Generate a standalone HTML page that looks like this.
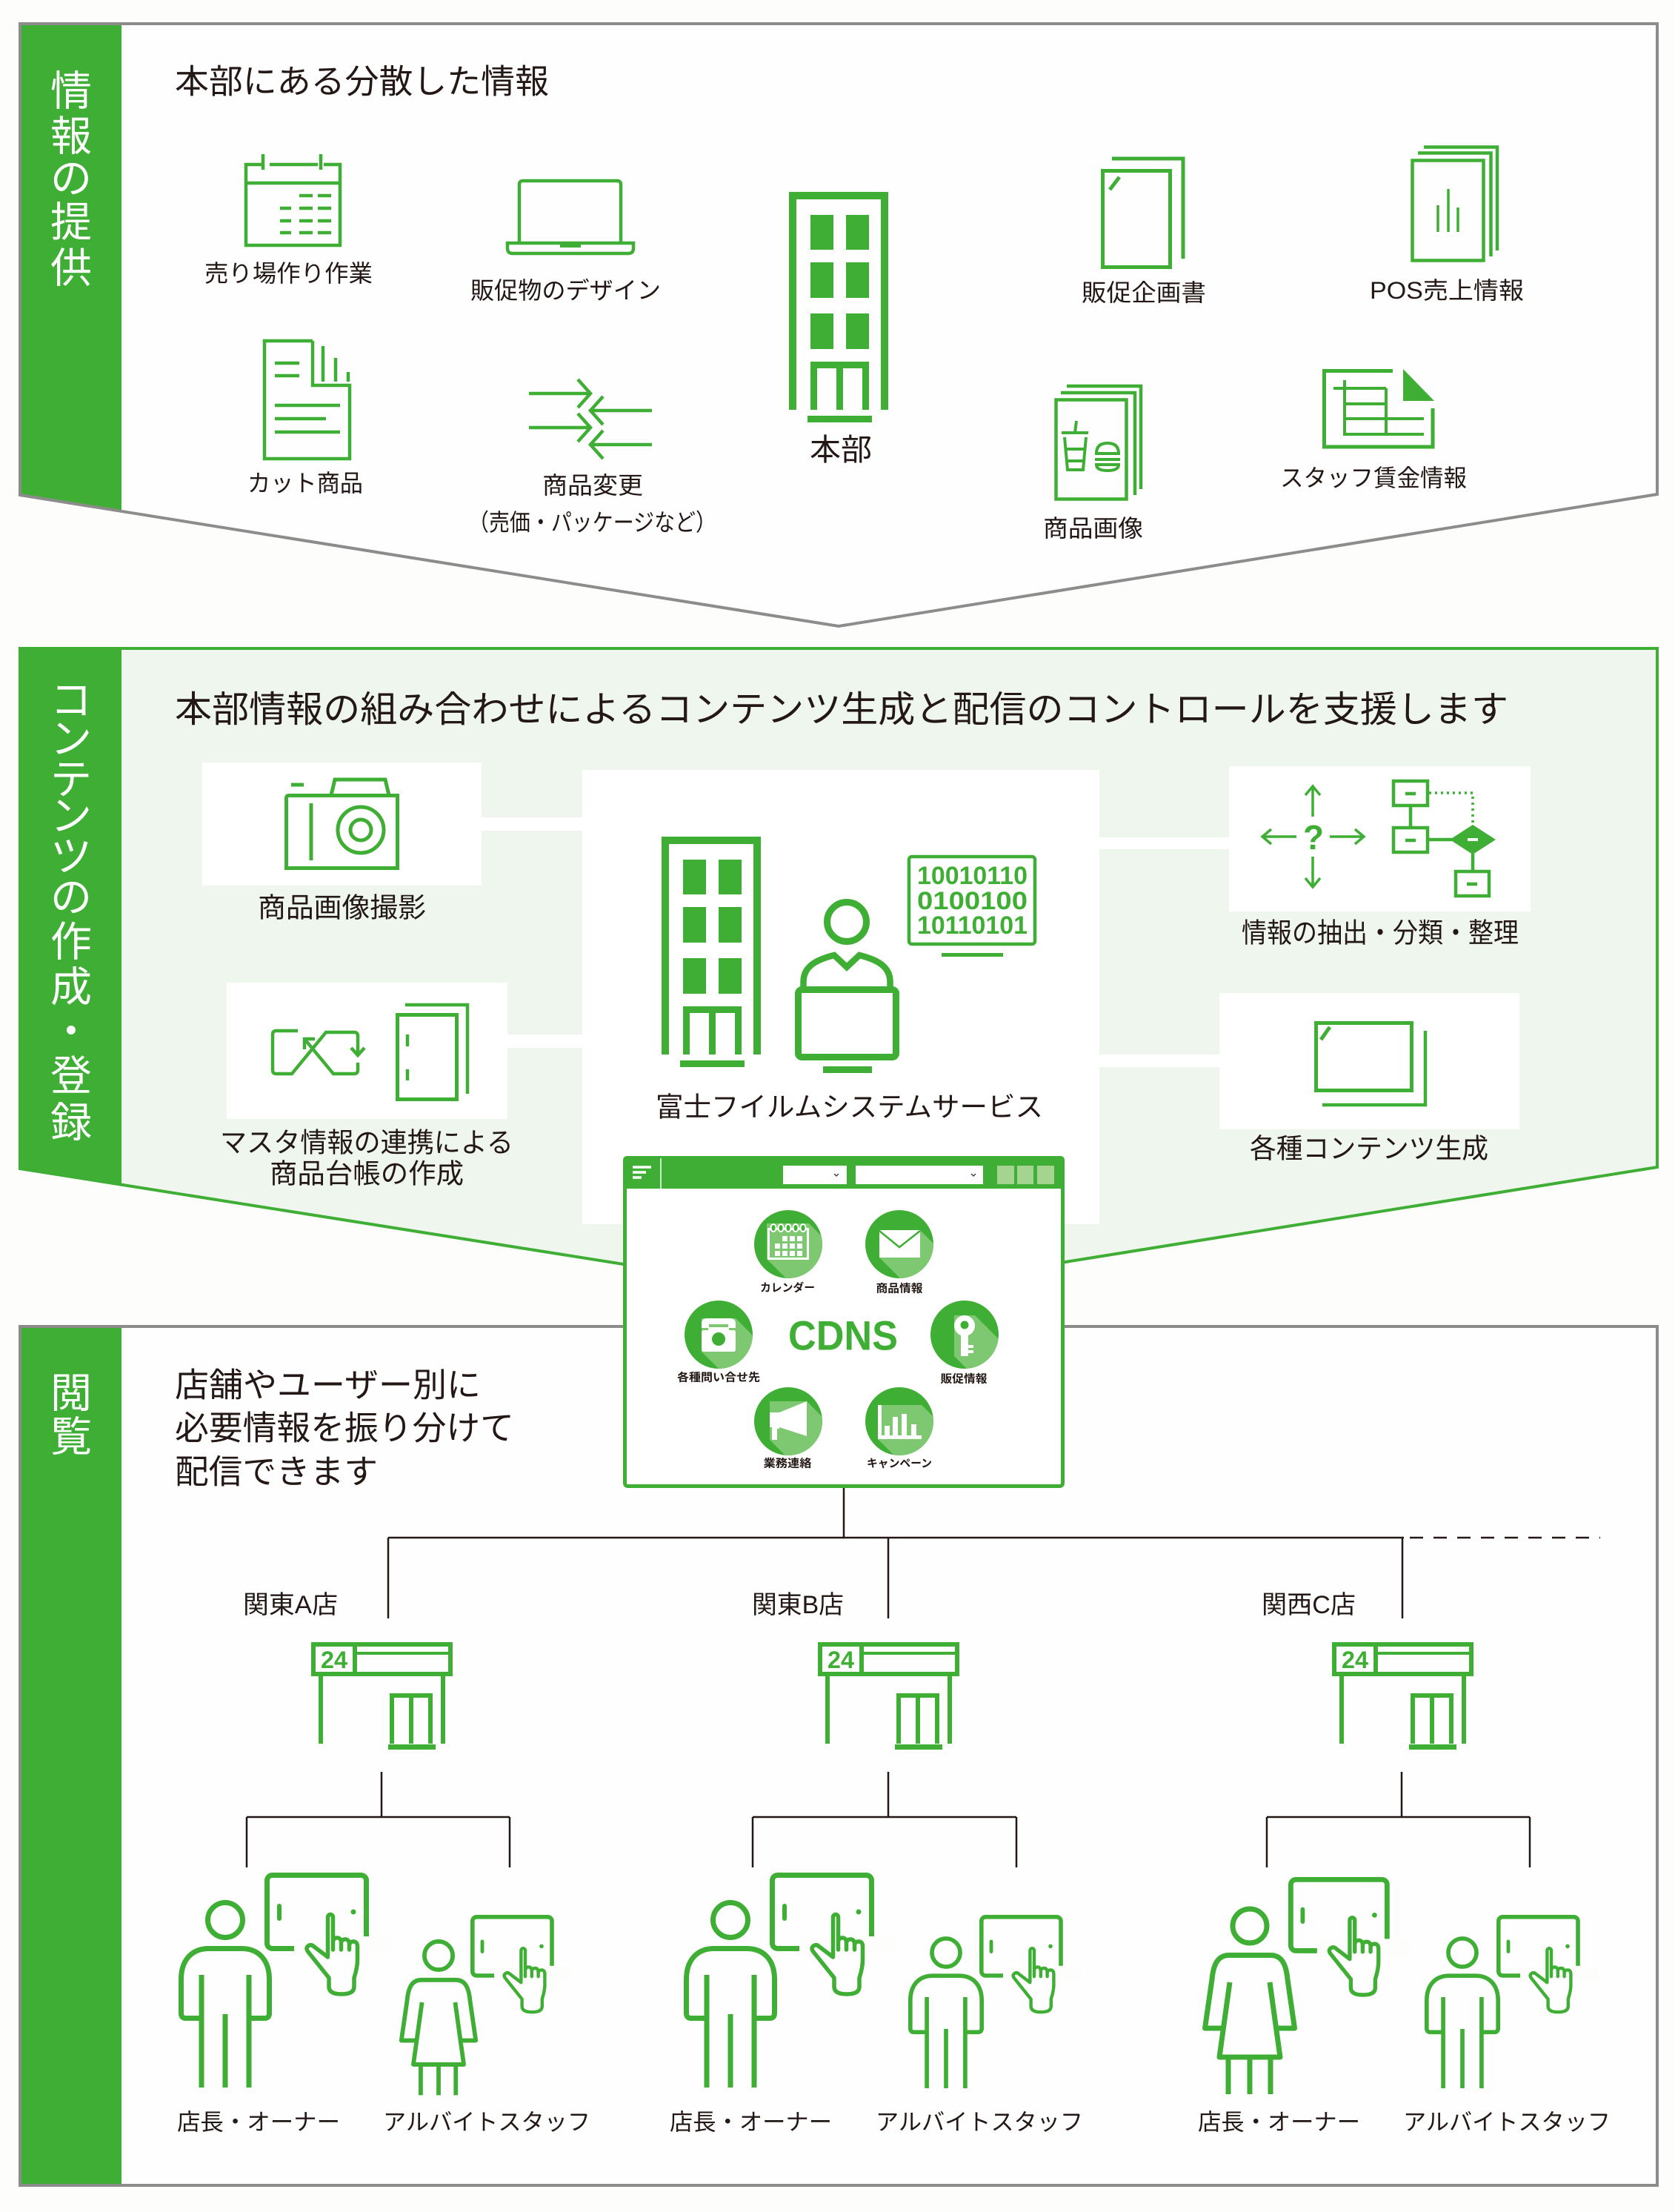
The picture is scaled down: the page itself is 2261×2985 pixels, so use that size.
<!DOCTYPE html>
<html><head><meta charset="utf-8">
<style>
html,body{margin:0;padding:0;background:#fdfdfb;}
svg{display:block;}
text{font-family:"Liberation Sans","Noto Sans CJK JP",sans-serif;fill:#231815;}
.w{fill:#ffffff;}
.s{fill:none;stroke:#3fae34;}
.k{fill:none;stroke:#231815;stroke-width:2.5;}
</style></head><body>
<svg width="2261" height="2985" viewBox="0 0 2261 2985" xmlns="http://www.w3.org/2000/svg">
<defs>
<clipPath id="cc"><circle cx="0" cy="0" r="46"/></clipPath>
<g id="bld">
 <path d="M5,294V5H129V294" fill="none" stroke="#3fae34" stroke-width="10"/>
 <g fill="#3fae34">
  <rect x="29" y="31" width="31" height="47"/><rect x="77" y="31" width="31" height="47"/>
  <rect x="29" y="95" width="31" height="48"/><rect x="77" y="95" width="31" height="48"/>
  <rect x="29" y="164" width="31" height="48"/><rect x="77" y="164" width="31" height="48"/>
  <rect x="64" y="233" width="9" height="61"/>
  <rect x="25" y="302" width="87" height="9"/>
 </g>
 <path d="M33.5,294V233.5H103.5V294" fill="none" stroke="#3fae34" stroke-width="9"/>
</g>
<g id="tab">
 <rect x="3.5" y="3.5" width="134" height="99" rx="7" fill="none" stroke="#3fae34" stroke-width="7"/>
 <rect x="40" y="86" width="130" height="24" fill="#fdfdfb"/>
 <line x1="20" y1="45" x2="20" y2="62" stroke="#3fae34" stroke-width="6" stroke-linecap="round"/>
 <circle cx="120" cy="53" r="3.5" fill="#3fae34"/>
 <path transform="translate(89,54)" d="M-3.5,58V6A3.5,3.5 0 0 1 3.5,6V50M3.5,41Q3.5,34 9,34Q14.5,34 14.5,41V50M14.5,42Q14.5,36 20,36Q25.5,36 25.5,43V50M25.5,45Q25.5,39 31,39Q36.5,39 36.5,46V64Q36.5,74 32,88V100Q32,110 15,110Q-2,110 -2,100V88L-30,53Q-34,48 -30,45Q-26,42 -22,46L-3.5,60" fill="none" stroke="#3fae34" stroke-width="5.5" stroke-linejoin="round" stroke-linecap="round"/>
</g>
<g id="man" fill="none" stroke="#3fae34" stroke-width="7">
 <circle cx="0" cy="0" r="23.5"/>
 <path d="M-32,132.5H-53Q-59.5,132.5 -59.5,126V80C-59.5,55 -46,38.5 -22,38.5H22C46,38.5 59.5,55 59.5,80V126Q59.5,132.5 53,132.5H32M-32,74V226M32,74V226M0,127V226"/>
</g>
<g id="woman" fill="none" stroke="#3fae34" stroke-width="7" stroke-linejoin="round">
 <circle cx="0" cy="0" r="23"/>
 <path d="M-35.6,138H-60.5L-51,72C-49,50 -42,39.5 -28,39.5H28C42,39.5 49,50 51,72L60.5,138H35.6M-27,76L-41,177H41L27,76M-29,177V227M0,177V227M28,177V227"/>
</g>
<g id="store">
 <rect x="3" y="3" width="185" height="40" fill="none" stroke="#3fae34" stroke-width="6"/>
 <line x1="59" y1="3" x2="59" y2="43" stroke="#3fae34" stroke-width="6"/>
 <line x1="59" y1="15" x2="188" y2="15" stroke="#3fae34" stroke-width="4"/>
 <path d="M13,46V137M178,46V137M109,137V72H161V137M135,72V137" fill="none" stroke="#3fae34" stroke-width="6"/>
 <rect x="104" y="138" width="64" height="7" fill="#3fae34"/>
</g>
</defs>

<rect x="0" y="0" width="2261" height="2985" fill="#fdfdfb"/>

<!-- ============ SECTION 1 ============ -->
<polygon points="27,32 2237,32 2237,667 1132,845 27,668" fill="#fefefe"/>
<polygon points="29,34 164,34 164,690 29,668" fill="#3fae34"/>
<polygon points="27,32 2237,32 2237,667 1132,845 27,668" fill="none" stroke="#8c8c8c" stroke-width="4"/>
<g font-size="56" text-anchor="middle" dominant-baseline="central">
 <text x="96" y="123" style="fill:#fff">情</text>
 <text x="96" y="184" style="fill:#fff">報</text>
 <text x="96" y="241" style="fill:#fff">の</text>
 <text x="96" y="300" style="fill:#fff">提</text>
 <text x="96" y="362" style="fill:#fff">供</text>
</g>
<text x="236" y="110" font-size="45" dominant-baseline="central" textLength="505" lengthAdjust="spacingAndGlyphs">本部にある分散した情報</text>

<!-- calendar -->
<g fill="none" stroke="#3fae34" stroke-width="4.5">
 <path d="M353,222H332V331H459V222H437M429,222H364"/>
 <path d="M355,208V229M433,208V229"/>
 <path d="M332,247H459"/>
 <path d="M404,264H422M429,264H447M378,281H393M404,281H422M429,281H447M378,298H393M404,298H422M429,298H447M378,314H393M404,314H422M429,314H447"/>
</g>
<text x="276" y="369" font-size="32" dominant-baseline="central" textLength="227" lengthAdjust="spacingAndGlyphs">売り場作り作業</text>
<!-- laptop -->
<g fill="none" stroke="#3fae34" stroke-width="4.5">
 <path d="M701,327V249Q701,244 706,244H833Q838,244 838,249V327"/>
 <path d="M685,328H855V335Q855,342 848,342H692Q685,342 685,335Z"/>
</g>
<rect x="756" y="329" width="28" height="5" fill="#3fae34"/>
<text x="635" y="392" font-size="32" dominant-baseline="central" textLength="257" lengthAdjust="spacingAndGlyphs">販促物のデザイン</text>
<!-- cut doc -->
<g fill="none" stroke="#3fae34" stroke-width="4.5">
 <path d="M422,460H357V619H472V520H422V460"/>
 <path d="M436,467V515M453,483V515M470,502V515"/>
 <path d="M371,490H404M371,507H404M371,547H459M371,565H440M371,583H459"/>
</g>
<text x="334" y="652" font-size="32" dominant-baseline="central" textLength="156" lengthAdjust="spacingAndGlyphs">カット商品</text>
<!-- arrows -->
<g fill="none" stroke="#3fae34" stroke-width="4.5">
 <path d="M714,531H797M780,512L797,531L780,550M714,577H797M780,558L797,577L780,596"/>
 <path d="M880,554H797M814,535L797,554L814,573M880,600H797M814,581L797,600L814,619"/>
</g>
<text x="732" y="655" font-size="32" dominant-baseline="central" textLength="136" lengthAdjust="spacingAndGlyphs">商品変更</text>
<text x="632" y="705" font-size="32" dominant-baseline="central" textLength="335" lengthAdjust="spacingAndGlyphs">（売価・パッケージなど）</text>
<!-- HQ building -->
<use href="#bld" x="1065" y="259"/>
<text x="1093" y="607" font-size="41" dominant-baseline="central" textLength="84" lengthAdjust="spacingAndGlyphs">本部</text>
<!-- 販促企画書 -->
<g fill="none" stroke="#3fae34" stroke-width="5">
 <rect x="1488.5" y="230.5" width="91" height="130"/>
 <path d="M1501,214H1597V349"/>
 <path d="M1498,256L1511,239"/>
</g>
<text x="1460" y="395" font-size="32" dominant-baseline="central" textLength="168" lengthAdjust="spacingAndGlyphs">販促企画書</text>
<!-- POS -->
<g fill="none" stroke="#3fae34" stroke-width="4.5">
 <rect x="1906.5" y="216.5" width="96" height="135"/>
 <path d="M1914,206.5H2012.5V346M1922,198.5H2021V338"/>
 <path d="M1941,277V313M1955,255V313M1968,280V313" stroke-width="3.5"/>
</g>
<text x="1849" y="392" font-size="32" dominant-baseline="central" textLength="208" lengthAdjust="spacingAndGlyphs">POS売上情報</text>
<!-- 商品画像 -->
<g fill="none" stroke="#3fae34" stroke-width="4.5">
 <rect x="1425.5" y="539.5" width="95" height="134"/>
 <path d="M1432,530H1532V668M1440,521H1540V660"/>
 <path d="M1433,584H1469M1437,590L1441,634H1462L1466,590M1439,606H1464M1440,622H1463M1451,584L1453,568" stroke-width="4"/>
 <path d="M1480,612Q1480,598 1495,598Q1510,598 1510,612ZM1478,620H1512M1480,627H1510Q1510,635 1495,635Q1480,635 1480,627Z" stroke-width="4"/>
</g>
<text x="1408" y="713" font-size="32" dominant-baseline="central" textLength="135" lengthAdjust="spacingAndGlyphs">商品画像</text>
<!-- staff wage -->
<g fill="none" stroke="#3fae34" stroke-width="5">
 <path d="M1880,500.5H1787.5V603H1934V551"/>
 <path d="M1815,513V588M1871,524V588M1800,524H1871M1815,545H1871M1815,565H1922M1815,586H1922" stroke-width="4"/>
</g>
<polygon points="1894,498 1936,541 1894,541" fill="#3fae34"/>
<text x="1728" y="645" font-size="32" dominant-baseline="central" textLength="252" lengthAdjust="spacingAndGlyphs">スタッフ賃金情報</text>

<!-- ============ SECTION 2 ============ -->
<polygon points="27,875 2237,875 2237,1575 1132,1752 27,1577" fill="#eff6ed" stroke="#3fae34" stroke-width="4"/>
<polygon points="27,875 164,875 164,1599 27,1577" fill="#3fae34"/>
<g font-size="56" text-anchor="middle" dominant-baseline="central">
 <text x="96" y="945" style="fill:#fff">コ</text>
 <text x="96" y="997" style="fill:#fff">ン</text>
 <text x="96" y="1052" style="fill:#fff">テ</text>
 <text x="96" y="1101" style="fill:#fff">ン</text>
 <text x="96" y="1156" style="fill:#fff">ツ</text>
 <text x="96" y="1211" style="fill:#fff">の</text>
 <text x="96" y="1271" style="fill:#fff">作</text>
 <text x="96" y="1332" style="fill:#fff">成</text>
 <text x="96" y="1392" style="fill:#fff">・</text>
 <text x="96" y="1452" style="fill:#fff">登</text>
 <text x="96" y="1515" style="fill:#fff">録</text>
</g>
<text x="236" y="958" font-size="49" dominant-baseline="central" textLength="1800" lengthAdjust="spacingAndGlyphs">本部情報の組み合わせによるコンテンツ生成と配信のコントロールを支援します</text>

<!-- white boxes and connectors -->
<rect x="273" y="1029" width="377" height="166" class="w"/>
<rect x="306" y="1326" width="379" height="184" class="w"/>
<rect x="786" y="1039" width="698" height="613" class="w"/>
<rect x="1659" y="1034" width="407" height="196" class="w"/>
<rect x="1646" y="1340" width="405" height="184" class="w"/>
<rect x="648" y="1103" width="140" height="18" class="w"/>
<rect x="683" y="1396" width="105" height="18" class="w"/>
<rect x="1482" y="1130" width="179" height="16" class="w"/>
<rect x="1482" y="1423" width="166" height="17" class="w"/>

<!-- camera -->
<g fill="none" stroke="#3fae34" stroke-width="5">
 <path d="M390,1073.5H536.5V1171.5H386.5V1077Q386.5,1073.5 390,1073.5Z"/>
 <path d="M447,1073L452,1052H520L525,1073"/>
 <path d="M393,1059H410"/>
 <path d="M420,1084V1161"/>
 <circle cx="487" cy="1120" r="31"/>
 <circle cx="487" cy="1120" r="14"/>
</g>
<text x="348" y="1225" font-size="37" dominant-baseline="central" textLength="227" lengthAdjust="spacingAndGlyphs">商品画像撮影</text>
<!-- master -->
<g fill="none" stroke="#3fae34" stroke-width="4.5">
 <path d="M402,1391H373Q368,1391 368,1396V1444Q368,1449 373,1449H394L440,1393H478Q483,1393 483,1398V1422"/>
 <path d="M474,1414L483,1424L492,1414"/>
 <path d="M411,1402L450,1449H478Q483,1449 483,1444V1434"/>
 <path d="M411,1416V1402H425"/>
 <rect x="536.5" y="1369.5" width="80" height="114" stroke-width="5"/>
 <path d="M547,1356H631V1476"/>
 <path d="M550,1396V1412M550,1443V1458"/>
</g>
<text x="297" y="1542" font-size="37" dominant-baseline="central" textLength="396" lengthAdjust="spacingAndGlyphs">マスタ情報の連携による</text>
<text x="364" y="1584" font-size="37" dominant-baseline="central" textLength="262" lengthAdjust="spacingAndGlyphs">商品台帳の作成</text>

<!-- center: building, person, binary -->
<use href="#bld" x="893" y="1129"/>
<g fill="none" stroke="#3fae34">
 <circle cx="1143" cy="1244" r="26.5" stroke-width="9"/>
 <path d="M1084.5,1336V1325C1084.5,1304 1102,1295 1126,1289L1143,1305L1160,1289C1184,1295 1201.5,1304 1201.5,1325V1336" stroke-width="8.5"/>
 <rect x="1077.5" y="1335.5" width="132" height="91" rx="5" stroke-width="9"/>
 <rect x="1227" y="1156" width="170" height="118" rx="4" stroke-width="4.5"/>
</g>
<rect x="1111" y="1439" width="66" height="9" fill="#3fae34"/>
<rect x="1271" y="1286" width="83" height="5" fill="#3fae34"/>
<g font-size="34" font-weight="bold" dominant-baseline="central">
 <text x="1238" y="1182" textLength="149" lengthAdjust="spacingAndGlyphs" style="fill:#3fae34">10010110</text>
 <text x="1238" y="1216" textLength="149" lengthAdjust="spacingAndGlyphs" style="fill:#3fae34">0100100</text>
 <text x="1238" y="1249" textLength="149" lengthAdjust="spacingAndGlyphs" style="fill:#3fae34">10110101</text>
</g>
<text x="885" y="1494" font-size="37" dominant-baseline="central" textLength="523" lengthAdjust="spacingAndGlyphs">富士フイルムシステムサービス</text>

<!-- info extraction -->
<g fill="none" stroke="#3fae34" stroke-width="3.5">
 <path d="M1772,1102V1062M1762,1073L1772,1061L1782,1073"/>
 <path d="M1772,1156V1196M1762,1185L1772,1197L1782,1185"/>
 <path d="M1750,1129H1705M1716,1119L1704,1129L1716,1139"/>
 <path d="M1795,1129H1840M1829,1119L1841,1129L1829,1139"/>
</g>
<text x="1773" y="1130" font-size="46" font-weight="bold" text-anchor="middle" dominant-baseline="central" style="fill:#3fae34">?</text>
<g fill="none" stroke="#3fae34" stroke-width="4.5">
 <rect x="1881" y="1054" width="46" height="33"/>
 <rect x="1881" y="1117" width="46" height="33"/>
 <rect x="1965" y="1176" width="45" height="33"/>
 <path d="M1904,1087V1117M1927,1133H1960M1988,1152V1176"/>
 <path d="M1897,1071H1911M1897,1134H1911M1980,1193H1994"/>
 <path d="M1929,1070H1988V1113" stroke-dasharray="3 5" stroke-width="3.5"/>
</g>
<polygon points="1988,1113 2019,1133 1988,1153 1957,1133" fill="#3fae34"/>
<path d="M1981,1133H1995" stroke="#fff" stroke-width="4"/>
<text x="1676" y="1259" font-size="37" dominant-baseline="central" textLength="374" lengthAdjust="spacingAndGlyphs">情報の抽出・分類・整理</text>
<!-- contents -->
<g fill="none" stroke="#3fae34" stroke-width="5">
 <rect x="1776.5" y="1380.5" width="129" height="91"/>
 <path d="M1924,1391V1491H1785" stroke-width="4.5"/>
 <path d="M1783,1403L1795,1386"/>
</g>
<text x="1687" y="1550" font-size="37" dominant-baseline="central" textLength="322" lengthAdjust="spacingAndGlyphs">各種コンテンツ生成</text>

<!-- ============ SECTION 3 ============ -->
<rect x="27" y="1790" width="2210" height="1159" fill="#fefefe" stroke="#8c8c8c" stroke-width="4"/>
<rect x="29" y="1792" width="135" height="1155" fill="#3fae34"/>
<g font-size="56" text-anchor="middle" dominant-baseline="central">
 <text x="96" y="1880" style="fill:#fff">閲</text>
 <text x="96" y="1939" style="fill:#fff">覧</text>
</g>
<text x="236" y="1869" font-size="45" dominant-baseline="central" textLength="413" lengthAdjust="spacingAndGlyphs">店舗やユーザー別に</text>
<text x="236" y="1927" font-size="45" dominant-baseline="central" textLength="458" lengthAdjust="spacingAndGlyphs">必要情報を振り分けて</text>
<text x="236" y="1986" font-size="45" dominant-baseline="central" textLength="274" lengthAdjust="spacingAndGlyphs">配信できます</text>

<!-- tree lines -->
<path class="k" d="M1139,2000V2075M524,2075H1895M524,2075V2184M1199,2075V2184M1893,2075V2184"/>
<path class="k" d="M1903,2075H2160" stroke-dasharray="18 14"/>
<path class="k" d="M515,2391V2452M333,2452H688M333,2452V2520M688,2452V2520"/>
<path class="k" d="M1199,2391V2452M1016,2452H1372M1016,2452V2520M1372,2452V2520"/>
<path class="k" d="M1892,2391V2452M1710,2452H2065M1710,2452V2520M2065,2452V2520"/>

<text x="328" y="2166" font-size="34" dominant-baseline="central" textLength="128" lengthAdjust="spacingAndGlyphs">関東A店</text>
<text x="1015" y="2166" font-size="34" dominant-baseline="central" textLength="124" lengthAdjust="spacingAndGlyphs">関東B店</text>
<text x="1703" y="2166" font-size="34" dominant-baseline="central" textLength="127" lengthAdjust="spacingAndGlyphs">関西C店</text>

<use href="#store" x="420" y="2216"/>
<use href="#store" x="1104" y="2216"/>
<use href="#store" x="1798" y="2216"/>
<g font-size="32" font-weight="bold" text-anchor="middle" dominant-baseline="central">
 <text x="451" y="2240" textLength="36" lengthAdjust="spacingAndGlyphs" style="fill:#3fae34">24</text>
 <text x="1135" y="2240" textLength="36" lengthAdjust="spacingAndGlyphs" style="fill:#3fae34">24</text>
 <text x="1829" y="2240" textLength="36" lengthAdjust="spacingAndGlyphs" style="fill:#3fae34">24</text>
</g>

<!-- people -->
<use href="#man" transform="translate(304,2591)"/>
<use href="#tab" transform="translate(357,2527)"/>
<use href="#woman" transform="translate(592,2639) scale(0.83)"/>
<use href="#tab" transform="translate(635,2584) scale(0.8)"/>

<use href="#man" transform="translate(986,2591)"/>
<use href="#tab" transform="translate(1039,2527)"/>
<use href="#man" transform="translate(1277,2635) scale(0.81)"/>
<use href="#tab" transform="translate(1322,2584) scale(0.8)"/>

<use href="#woman" transform="translate(1687,2599)"/>
<use href="#tab" transform="translate(1739,2533) scale(0.97)"/>
<use href="#man" transform="translate(1974,2635) scale(0.81)"/>
<use href="#tab" transform="translate(2020,2584) scale(0.8)"/>

<g font-size="31" dominant-baseline="central">
 <text x="239" y="2864" textLength="220" lengthAdjust="spacingAndGlyphs">店長・オーナー</text>
 <text x="517" y="2864" textLength="280" lengthAdjust="spacingAndGlyphs">アルバイトスタッフ</text>
 <text x="904" y="2864" textLength="219" lengthAdjust="spacingAndGlyphs">店長・オーナー</text>
 <text x="1182" y="2864" textLength="280" lengthAdjust="spacingAndGlyphs">アルバイトスタッフ</text>
 <text x="1617" y="2864" textLength="219" lengthAdjust="spacingAndGlyphs">店長・オーナー</text>
 <text x="1894" y="2864" textLength="280" lengthAdjust="spacingAndGlyphs">アルバイトスタッフ</text>
</g>

<!-- ============ CDNS PANEL ============ -->
<rect x="843.5" y="1562.5" width="591" height="443" rx="4" fill="#ffffff" stroke="#3fae34" stroke-width="5"/>
<path d="M841,1604V1566Q841,1560 847,1560H1431Q1437,1560 1437,1566V1604Z" fill="#3fae34"/>
<path d="M854,1575H879M854,1582H872M854,1589H866" stroke="#fff" stroke-width="3.5"/>
<path d="M892,1563V1604" stroke="#fff" stroke-width="1.5"/>
<rect x="1057" y="1573" width="86" height="25" fill="#fff"/>
<rect x="1155" y="1573" width="172" height="25" fill="#fff"/>
<path d="M1126,1584L1129,1587L1132,1584M1311,1584L1314,1587L1317,1584" fill="none" stroke="#333" stroke-width="1.3"/>
<g fill="#a4d48f">
 <rect x="1346" y="1573" width="23" height="25"/>
 <rect x="1373" y="1573" width="22" height="25"/>
 <rect x="1400" y="1573" width="23" height="25"/>
</g>

<!-- calendar circle -->
<g transform="translate(1064,1679)">
 <circle r="46" fill="#3fae34"/>
 <polygon clip-path="url(#cc)" points="-29,-28 28,-28 128,72 128,120 71,120 -29,20" fill="#7dc870"/>
 <rect x="-26.5" y="-20.5" width="53" height="40" fill="none" stroke="#fff" stroke-width="3"/>
 <g fill="#3fae34" stroke="#fff" stroke-width="2">
  <ellipse cx="-20" cy="-22" rx="3.5" ry="5"/><ellipse cx="-10" cy="-22" rx="3.5" ry="5"/><ellipse cx="0" cy="-22" rx="3.5" ry="5"/><ellipse cx="10" cy="-22" rx="3.5" ry="5"/><ellipse cx="20" cy="-22" rx="3.5" ry="5"/>
 </g>
 <g fill="#fff">
  <rect x="-8" y="-11" width="7" height="7"/><rect x="2" y="-11" width="7" height="7"/><rect x="12" y="-11" width="7" height="7"/>
  <rect x="-18" y="-1" width="7" height="7"/><rect x="-8" y="-1" width="7" height="7"/><rect x="2" y="-1" width="7" height="7"/><rect x="12" y="-1" width="7" height="7"/>
  <rect x="-18" y="9" width="7" height="7"/><rect x="-8" y="9" width="7" height="7"/><rect x="2" y="9" width="7" height="7"/><rect x="12" y="9" width="7" height="7"/>
 </g>
</g>
<!-- mail -->
<g transform="translate(1214,1679)">
 <circle r="46" fill="#3fae34"/>
 <polygon clip-path="url(#cc)" points="-27,-19 28,-19 128,81 128,118 73,118 -27,18" fill="#7dc870"/>
 <rect x="-27" y="-19" width="55" height="37" fill="#fff"/>
 <path d="M-27,-18L0,4L28,-18" fill="none" stroke="#3fae34" stroke-width="2.5"/>
</g>
<!-- phone -->
<g transform="translate(970,1801)">
 <circle r="46" fill="#3fae34"/>
 <polygon clip-path="url(#cc)" points="-23,-22 23,-22 123,78 123,123 77,123 -23,23" fill="#7dc870"/>
 <path d="M-23,-9V-15Q-23,-22 -15,-22H15Q23,-22 23,-15V-9H13V-14H-13V-9Z" fill="#fff"/>
 <path d="M-14,-10H14V-6H20Q23,-6 23,-3V20Q23,23 20,23H-20Q-23,23 -23,20V-3Q-23,-6 -20,-6H-14Z" fill="#fff"/>
 <circle cx="0" cy="6" r="9" fill="#3fae34"/>
</g>
<!-- key -->
<g transform="translate(1302,1801)">
 <circle r="46" fill="#3fae34"/>
 <polygon clip-path="url(#cc)" points="-14,-26 14,-26 114,74 114,129 86,129 -14,29" fill="#7dc870"/>
 <circle cx="0" cy="-12" r="14" fill="#fff"/>
 <circle cx="0" cy="-13" r="5.5" fill="#3fae34"/>
 <rect x="-5" y="-2" width="10" height="31" fill="#fff"/>
 <rect x="5" y="14" width="7" height="4" fill="#fff"/>
 <rect x="5" y="21" width="7" height="4" fill="#fff"/>
</g>
<!-- megaphone -->
<g transform="translate(1064,1918)">
 <circle r="46" fill="#3fae34"/>
 <polygon clip-path="url(#cc)" points="-25,-27 25,-27 125,73 125,125 75,125 -25,25" fill="#7dc870"/>
 <path d="M-25,-12H-12L25,-27V20L-12,8V10H-15V25H-22V8H-25Z" fill="#fff"/>
</g>
<!-- chart -->
<g transform="translate(1214,1918)">
 <circle r="46" fill="#3fae34"/>
 <polygon clip-path="url(#cc)" points="-29,-22 30,-22 130,78 130,124 71,124 -29,24" fill="#7dc870"/>
 <g fill="#fff">
  <rect x="-29" y="19" width="59" height="5"/>
  <rect x="-29" y="-22" width="5" height="42"/>
  <rect x="-20" y="6" width="7" height="14"/>
  <rect x="-9" y="-6" width="7" height="26"/>
  <rect x="3" y="-10" width="7" height="30"/>
  <rect x="16" y="4" width="7" height="16"/>
 </g>
</g>
<text x="1064" y="1679" font-size="56" font-weight="bold" dominant-baseline="central" textLength="148" lengthAdjust="spacingAndGlyphs" transform="translate(0,123)" style="fill:#3fae34">CDNS</text>
<g font-size="15" font-weight="bold" text-anchor="middle" dominant-baseline="central">
 <text x="1063" y="1738" textLength="74" lengthAdjust="spacingAndGlyphs">カレンダー</text>
 <text x="1214" y="1739" textLength="63" lengthAdjust="spacingAndGlyphs">商品情報</text>
 <text x="970" y="1859" textLength="112" lengthAdjust="spacingAndGlyphs">各種問い合せ先</text>
 <text x="1301" y="1861" textLength="63" lengthAdjust="spacingAndGlyphs">販促情報</text>
 <text x="1063" y="1975" textLength="65" lengthAdjust="spacingAndGlyphs">業務連絡</text>
 <text x="1214" y="1975" textLength="88" lengthAdjust="spacingAndGlyphs">キャンペーン</text>
</g>
</svg>
</body></html>
